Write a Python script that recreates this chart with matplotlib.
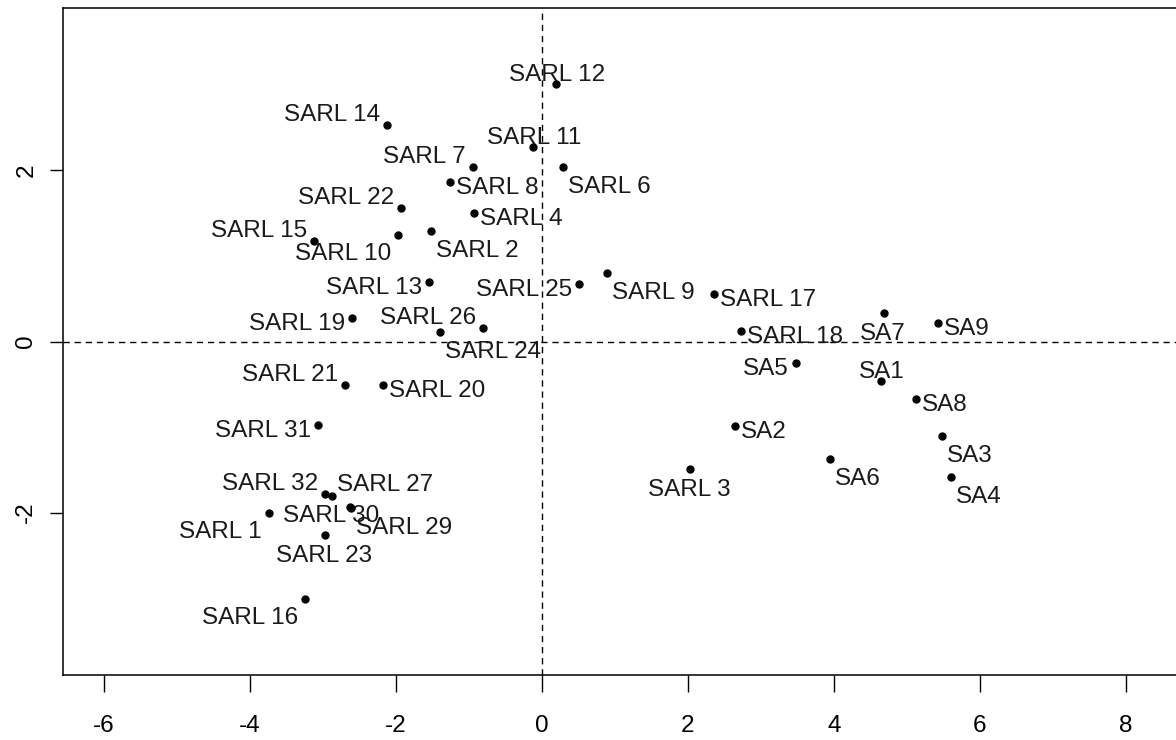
import matplotlib
matplotlib.use("Agg")
import matplotlib.pyplot as plt

# ================= DATA =================

names = ["SARL 1", "SARL 2", "SARL 3", "SARL 4", "SARL 6", "SARL 7", "SARL 8",
         "SARL 9", "SARL 10", "SARL 11", "SARL 12", "SARL 13", "SARL 14",
         "SARL 15", "SARL 16", "SARL 17", "SARL 18", "SARL 19", "SARL 20",
         "SARL 21", "SARL 22", "SARL 23", "SARL 24", "SARL 25", "SARL 26",
         "SARL 27", "SARL 29", "SARL 30", "SARL 31", "SARL 32",
         "SA1", "SA2", "SA3", "SA4", "SA5", "SA6", "SA7", "SA8", "SA9"]

dim1 = [-3.74, -1.52, 2.03, -0.93, 0.29, -0.95, -1.26,
        0.89, -1.97, -0.12, 0.19, -1.55, -2.12,
        -3.12, -3.25, 2.36, 2.73, -2.60, -2.18,
        -2.70, -1.93, -2.97, -1.40, 0.51, -0.81,
        -2.88, -2.61, -2.63, -3.07, -2.97,
        4.64, 2.64, 5.48, 5.60, 3.48, 3.95, 4.68, 5.12, 5.42]

dim2 = [-2.00, 1.29, -1.49, 1.50, 2.04, 2.04, 1.86,
        0.80, 1.24, 2.27, 3.01, 0.70, 2.53,
        1.17, -3.01, 0.55, 0.12, 0.28, -0.51,
        -0.51, 1.56, -2.26, 0.11, 0.67, 0.16,
        -1.81, -1.95, -1.94, -0.98, -1.78,
        -0.46, -0.99, -1.10, -1.58, -0.25, -1.37, 0.33, -0.67, 0.22]

# where each label sits around its point
label_pos = ["SW", "SE", "S", "E", "SE", "NW", "E",
             "SE", "SW", "N", "N", "W", "NW",
             "NW", "SW", "E", "E", "W", "E",
             "NW", "NW", "S", "SE", "W", "NW",
             "NE", "SE", "C", "W", "NW",
             "N", "E", "SE", "SE", "W", "SE", "S", "E", "E"]

# ================= STYLE =================

FONT = ["Liberation Sans", "DejaVu Sans"]
FS = 17.5
plt.rcParams["font.family"] = FONT

# offset in pixels (dx, dy of baseline, image y downward) and alignment
OFFS = {
    "E":  (6, 12, "left"),
    "W":  (-7, 12, "right"),
    "SE": (5, 26, "left"),
    "SW": (-7, 25, "right"),
    "NE": (5, -5, "left"),
    "NW": (-7, -4, "right"),
    "N":  (1, -3, "center"),
    "S":  (-1, 27, "center"),
    "C":  (-19, 15, "center"),
}

fig = plt.figure(figsize=(11.76, 7.40), dpi=100)
ax = fig.add_axes([63 / 1176, 65 / 740, 1136 / 1176, 667 / 740])

ax.set_xlim(-6.56, 9.0)
ax.set_ylim(-3.9, 3.9)

ax.axhline(0, color="black", lw=1.0, ls=(0, (4.5, 3.5)), zorder=1)
ax.axvline(0, color="black", lw=1.0, ls=(0, (4.5, 3.5)), zorder=1)

ax.plot(dim1, dim2, "o", color="black", ms=5, zorder=3)

for nm, x, y, p in zip(names, dim1, dim2, label_pos):
    dx, dy, ha = OFFS[p]
    ax.annotate(nm, (x, y), xytext=(dx, -dy), textcoords="offset pixels",
                ha=ha, va="baseline", fontsize=FS, color="#1a1a1a", zorder=4)

ax.set_xticks([-6, -4, -2, 0, 2, 4, 6, 8])
ax.set_xticklabels(["-6", "-4", "-2", "0", "2", "4", "6", "8"])
ax.set_yticks([-2, 0, 2])
ax.set_yticklabels(["-2", "0", "2"], rotation=90, va="center")

ax.tick_params(axis="x", length=12, width=1.0, pad=17, labelsize=FS,
               colors="black")
ax.tick_params(axis="y", length=9.5, width=1.0, pad=9, labelsize=FS,
               colors="black")

for s in ax.spines.values():
    s.set_linewidth(1.1)
    s.set_color("black")

fig.savefig("out.png", dpi=100)
plt.close(fig)
